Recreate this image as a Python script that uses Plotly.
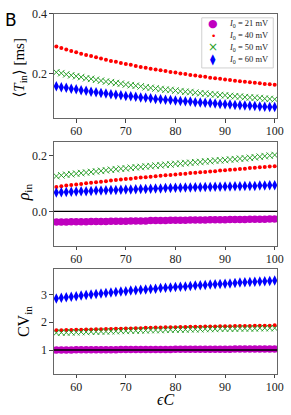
import plotly.graph_objects as go

eps_c = list(range(56, 101))
labels = ["<i>I</i><sub>0</sub> = 21 mV", "<i>I</i><sub>0</sub> = 40 mV",
          "<i>I</i><sub>0</sub> = 50 mV", "<i>I</i><sub>0</sub> = 60 mV"]

# panel 1: mean interval <T_in> [ms]
T_40 = [.291, .286, .281, .276, .272, .267, .263, .259, .255, .251, .247, .243, .240, .236, .233,
        .230, .226, .223, .220, .217, .214, .212, .209, .206, .204, .201, .199, .196, .194, .192,
        .190, .187, .185, .183, .181, .179, .177, .175, .173, .172, .170, .168, .166, .165, .163]
T_50 = [.205, .202, .198, .195, .192, .189, .185, .183, .180, .177, .174, .172, .169, .167, .164,
        .162, .160, .158, .155, .153, .151, .149, .147, .146, .144, .142, .140, .139, .137, .135,
        .134, .132, .131, .129, .128, .126, .125, .124, .122, .121, .120, .119, .117, .116, .115]
T_60 = [.158, .155, .153, .150, .148, .145, .143, .140, .138, .136, .134, .132, .130, .128, .126,
        .125, .123, .121, .120, .118, .116, .115, .113, .112, .111, .109, .108, .107, .105, .104,
        .103, .102, .101, .099, .098, .097, .096, .095, .094, .093, .092, .091, .090, .089, .089]

# panel 2: rho_in
rho_21 = [-.038, -.038, -.038, -.037, -.037, -.037, -.037, -.036, -.036, -.036, -.036, -.035, -.035,
          -.035, -.035, -.034, -.034, -.034, -.034, -.033, -.033, -.033, -.033, -.032, -.032, -.032,
          -.032, -.031, -.031, -.031, -.031, -.030, -.030, -.030, -.030, -.029, -.029, -.029, -.029,
          -.028, -.028, -.028, -.028, -.027, -.027]
rho_40 = [.088, .091, .093, .095, .097, .099, .101, .103, .105, .107, .109, .111, .113, .115, .117,
          .118, .120, .122, .123, .125, .127, .128, .130, .131, .133, .135, .136, .138, .139, .141,
          .142, .144, .145, .147, .148, .150, .151, .153, .154, .156, .157, .159, .160, .162, .163]
rho_50 = [.127, .130, .132, .134, .136, .138, .140, .142, .144, .146, .148, .150, .152, .154, .155,
          .157, .159, .160, .162, .163, .165, .166, .168, .169, .171, .172, .174, .175, .177, .178,
          .180, .181, .183, .184, .185, .187, .188, .190, .191, .193, .195, .197, .199, .201, .203]
rho_60 = [.068, .069, .070, .071, .072, .073, .073, .074, .075, .075, .076, .077, .077, .078, .079,
          .079, .080, .081, .081, .082, .083, .083, .084, .084, .085, .085, .086, .086, .087, .087,
          .088, .088, .089, .089, .090, .090, .091, .091, .092, .092, .092, .093, .093, .094, .094]

# panel 3: CV_in
cv_21 = [1.00, 1.00, 1.00, 1.00, 1.01, 1.01, 1.01, 1.01, 1.01, 1.01, 1.01, 1.01, 1.01, 1.02, 1.02,
         1.02, 1.02, 1.02, 1.02, 1.02, 1.02, 1.02, 1.02, 1.02, 1.03, 1.03, 1.03, 1.03, 1.03, 1.03,
         1.03, 1.03, 1.03, 1.03, 1.03, 1.03, 1.04, 1.04, 1.04, 1.04, 1.04, 1.04, 1.04, 1.04, 1.04]
cv_40 = [1.71, 1.71, 1.72, 1.72, 1.73, 1.73, 1.74, 1.74, 1.75, 1.75, 1.76, 1.76, 1.77, 1.77, 1.78,
         1.78, 1.79, 1.79, 1.80, 1.80, 1.81, 1.81, 1.82, 1.82, 1.82, 1.83, 1.83, 1.84, 1.84, 1.84,
         1.85, 1.85, 1.85, 1.86, 1.86, 1.86, 1.87, 1.87, 1.87, 1.87, 1.88, 1.88, 1.88, 1.88, 1.89]
cv_50 = [1.62, 1.63, 1.63, 1.64, 1.64, 1.65, 1.65, 1.66, 1.66, 1.67, 1.67, 1.68, 1.68, 1.69, 1.69,
         1.70, 1.70, 1.71, 1.71, 1.72, 1.72, 1.72, 1.73, 1.73, 1.74, 1.74, 1.74, 1.75, 1.75, 1.75,
         1.76, 1.76, 1.76, 1.77, 1.77, 1.77, 1.77, 1.78, 1.78, 1.78, 1.78, 1.79, 1.79, 1.79, 1.79]
cv_60 = [2.86, 2.88, 2.90, 2.92, 2.94, 2.96, 2.98, 3.00, 3.02, 3.04, 3.05, 3.07, 3.09, 3.11, 3.12,
         3.14, 3.15, 3.17, 3.18, 3.20, 3.21, 3.23, 3.24, 3.25, 3.27, 3.28, 3.29, 3.31, 3.32, 3.33,
         3.34, 3.36, 3.37, 3.38, 3.39, 3.40, 3.41, 3.43, 3.44, 3.45, 3.46, 3.47, 3.48, 3.49, 3.50]

x_ticks = [60, 70, 80, 90, 100]

colors = ["#bf00bf", "#ff0000", "#2ca02c", "#0000ff"]
styles = [
    dict(symbol="circle", size=7.5, color=colors[0]),
    dict(symbol="circle", size=4, color=colors[1]),
    dict(symbol="x-thin-open", size=6.5, color=colors[2], line=dict(width=1, color=colors[2])),
    dict(symbol="diamond-tall", size=7.5, color=colors[3]),
]
# legend glyphs (text) standing in for each marker style
glyphs = [("●", 11), ("•", 9), ("×", 12), ("⧫", 11)]

fig = go.Figure()

def add(series, idx, xa, ya):
    st = dict(styles[idx])
    if "line" not in st:
        st["line"] = dict(width=0)
    fig.add_trace(go.Scatter(
        x=eps_c, y=series, mode="markers", marker=st, name=labels[idx],
        xaxis=xa, yaxis=ya, showlegend=False))

# panel 1 (no 21 mV data in range)
add(T_40, 1, "x", "y")
add(T_50, 2, "x", "y")
add(T_60, 3, "x", "y")
# panel 2
add(rho_21, 0, "x2", "y2")
add(rho_40, 1, "x2", "y2")
add(rho_50, 2, "x2", "y2")
add(rho_60, 3, "x2", "y2")
# panel 3
add(cv_21, 0, "x3", "y3")
add(cv_40, 1, "x3", "y3")
add(cv_50, 2, "x3", "y3")
add(cv_60, 3, "x3", "y3")

# reference lines
fig.add_shape(type="line", xref="x2 domain", yref="y2", x0=0, x1=1, y0=0, y1=0,
              line=dict(color="black", width=1.2), layer="above")
fig.add_shape(type="line", xref="x3 domain", yref="y3", x0=0, x1=1, y0=1, y1=1,
              line=dict(color="black", width=1.5), layer="above")

H = 415.0
W = 291.0
def dom(top, bot):
    return [1 - bot / H, 1 - top / H]

xdom = [55 / W, 283 / W]
serif = "Liberation Serif, DejaVu Serif, serif"
tickfont = dict(family=serif, size=12, color="#222")
common = dict(showline=True, linecolor="#666", linewidth=1, mirror=True, ticks="outside",
              ticklen=3.5, tickcolor="#444", tickwidth=1, showgrid=False, zeroline=False,
              tickfont=tickfont)
xcommon = dict(common, ticklabelstandoff=-2)

fig.update_layout(
    width=291, height=415, margin=dict(l=0, r=0, t=0, b=0),
    paper_bgcolor="white", plot_bgcolor="white",
    xaxis=dict(domain=xdom, range=[55.5, 100.5], tickvals=x_ticks, anchor="y", **xcommon),
    yaxis=dict(domain=dom(7, 113), range=[0.052, 0.4], tickvals=[0.2, 0.4],
               ticktext=["0.2", "0.4"], anchor="x", **common),
    xaxis2=dict(domain=xdom, range=[55.5, 100.5], tickvals=x_ticks, anchor="y2", **xcommon),
    yaxis2=dict(domain=dom(137, 243), range=[-0.124, 0.251], tickvals=[0.0, 0.2],
                ticktext=["0.0", "0.2"], anchor="x2", **common),
    xaxis3=dict(domain=xdom, range=[55.5, 100.5], tickvals=x_ticks, anchor="y3", **xcommon),
    yaxis3=dict(domain=dom(267, 373), range=[0.15, 3.9], tickvals=[1, 2, 3], anchor="x3", **common),
    showlegend=False,
)

# legend frame
fig.add_shape(type="rect", xref="paper", yref="paper",
              x0=206 / W, x1=279 / W, y0=1 - 62 / H, y1=1 - 11 / H,
              line=dict(color="#d0d0d0", width=1), fillcolor="rgba(255,255,255,0.85)", layer="above")

ann = [
    dict(text="B", x=3 / W, y=1 - 1 / H, xanchor="left", yanchor="top",
         font=dict(family="DejaVu Sans, sans-serif", size=17, color="black")),
    dict(text="⟨<i>T</i><sub>in</sub>⟩ [ms]", x=20 / W, y=1 - 62 / H, textangle=-90,
         font=dict(family=serif, size=15, color="black")),
    dict(text="<i>ρ</i><sub>in</sub>", x=25 / W, y=1 - 188 / H, textangle=-90,
         font=dict(family=serif, size=16, color="black")),
    dict(text="CV<sub>in</sub>", x=25 / W, y=1 - 320 / H, textangle=-90,
         font=dict(family=serif, size=16, color="black")),
    dict(text="<i>ϵC</i>", x=169 / W, y=1 - 399 / H,
         font=dict(family=serif, size=16, color="black")),
]
row_y = [17, 29, 41, 53]
for i in range(4):
    g, gs = glyphs[i]
    ann.append(dict(text=g, x=217.5 / W, y=1 - row_y[i] / H,
                    font=dict(family="DejaVu Sans, sans-serif", size=gs, color=colors[i])))
    ann.append(dict(text=labels[i], x=232 / W, y=1 - row_y[i] / H, xanchor="left",
                    font=dict(family=serif, size=8.5, color="#222")))
for a in ann:
    a.update(xref="paper", yref="paper", showarrow=False)
    a.setdefault("xanchor", "center")
    a.setdefault("yanchor", "middle")
fig.update_layout(annotations=ann)

fig.write_html("out.html", config={"displayModeBar": False},
               post_script="document.body.style.margin='0';document.body.style.padding='0';"
                           "document.documentElement.style.overflow='hidden';")
